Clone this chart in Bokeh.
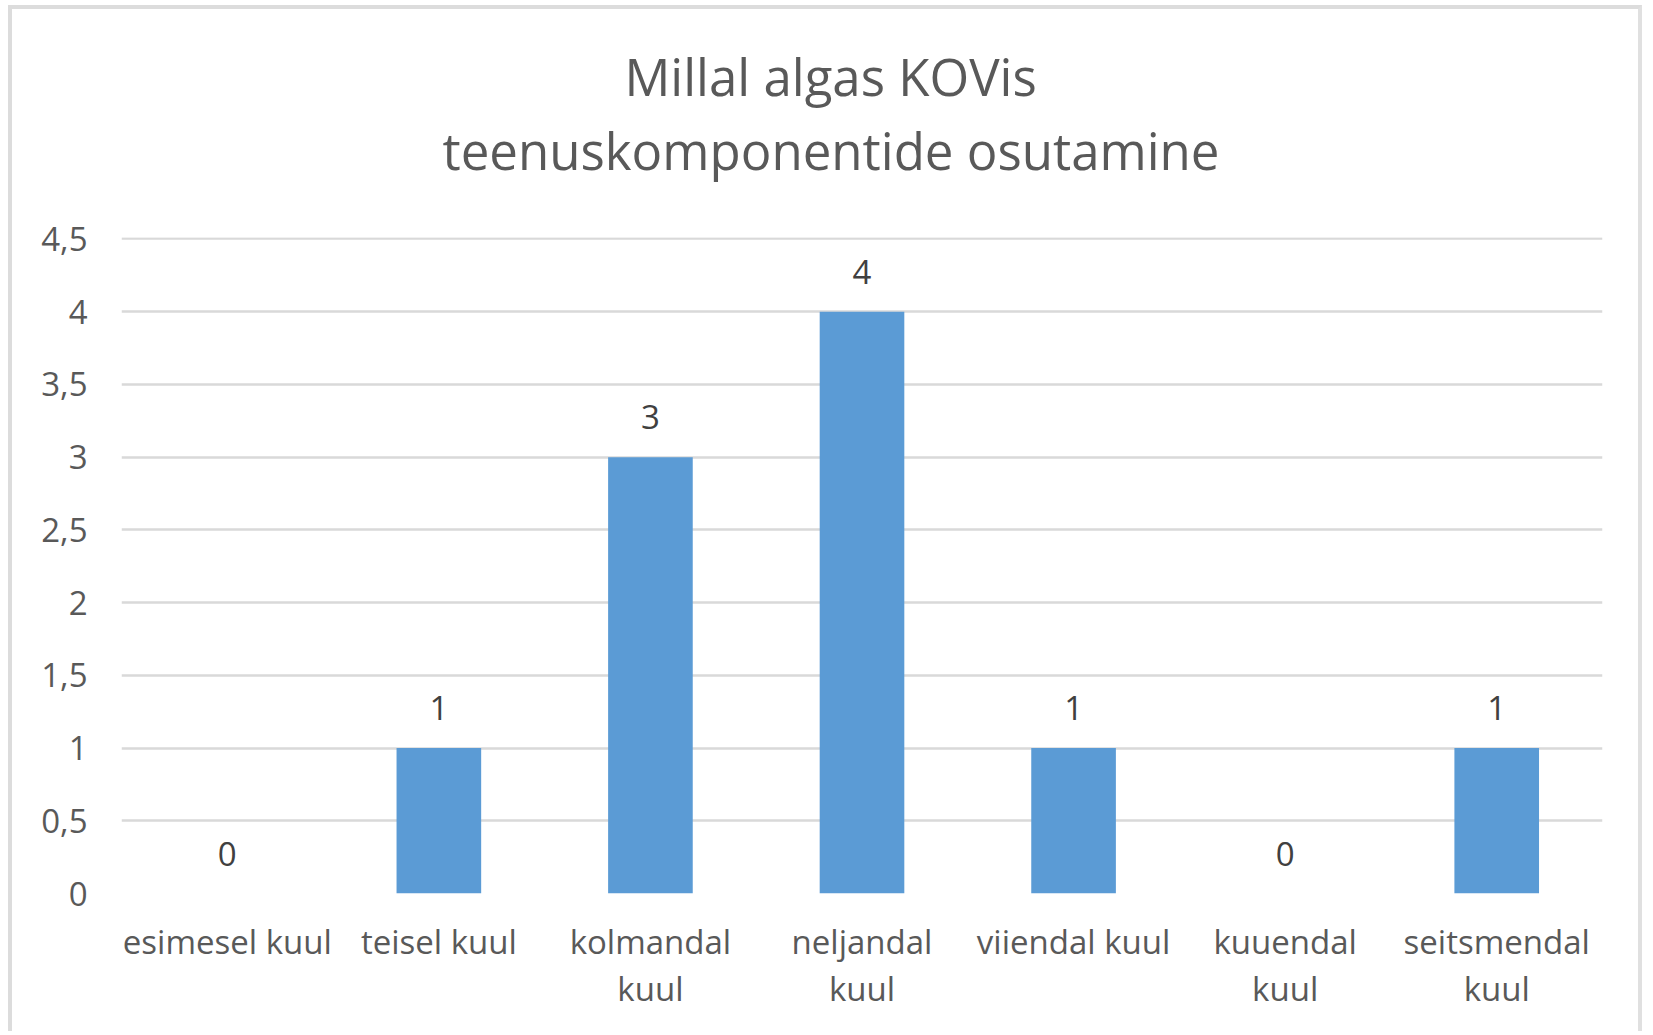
from bokeh.plotting import figure
from bokeh.models import ColumnDataSource, Range1d, FactorRange, FixedTicker, CustomJSTickFormatter, Title
from bokeh.embed import file_html
from bokeh.resources import INLINE
from bokeh.core.properties import value

categories = ["esimesel kuul", "teisel kuul", "kolmandal\nkuul", "neljandal\nkuul",
              "viiendal kuul", "kuuendal\nkuul", "seitsmendal\nkuul"]
counts = [0, 1, 3, 4, 1, 0, 1]
y_ticks = [0, 0.5, 1, 1.5, 2, 2.5, 3, 3.5, 4, 4.5]
title_line1 = "Millal algas KOVis"
title_line2 = "teenuskomponentide  osutamine"

FONT = "Open Sans"

src = ColumnDataSource(dict(cat=categories, val=counts, lab=[str(v) for v in counts]))

W, H = 1634, 1026
p = figure(width=W, height=H, output_backend="svg", toolbar_location=None,
           x_range=FactorRange(factors=categories), y_range=Range1d(0, 4.51),
           min_border_left=109, min_border_right=44, min_border_top=228, min_border_bottom=142,
           background_fill_color="white", border_fill_color="white")
p.styles = {"margin-left": "8px", "margin-top": "5px",
            "border-top": "4px solid #dcdcdc", "border-left": "4px solid #dcdcdc",
            "border-right": "4px solid #e0e0e0"}
p.outline_line_color = None

def style_title(t, standoff, offset):
    t.align = "left"
    t.text_font = FONT
    t.text_font_size = "51px"
    t.text_font_style = "normal"
    t.text_color = "#595959"
    t.offset = offset
    t.standoff = standoff

# outer line (p.title) and inner line (added title, nearest the frame)
p.title.text = title_line1
style_title(p.title, -101, 503)
t2 = Title(text=title_line2)
style_title(t2, 105, 321)
p.add_layout(t2, "above")

p.vbar(x="cat", top="val", width=0.4, source=src, fill_color="#5b9bd5", line_color=None)
p.text(x="cat", y="val", text="lab", source=src, text_align="center", text_baseline="middle",
       y_offset=-40, text_font=value(FONT), text_font_size="33px", text_color="#404040")

# axes
p.yaxis.ticker = FixedTicker(ticks=y_ticks)
p.yaxis.formatter = CustomJSTickFormatter(code="return tick.toString().replace('.', ',');")
p.yaxis.axis_line_color = None
p.yaxis.major_tick_line_color = None
p.yaxis.minor_tick_line_color = None
p.yaxis.major_label_standoff = 28
p.yaxis.major_label_text_font = FONT
p.yaxis.major_label_text_font_size = "33px"
p.yaxis.major_label_text_color = "#595959"

p.xaxis.axis_line_color = None
p.xaxis.major_tick_line_color = None
p.xaxis.major_label_standoff = 19
p.xaxis.major_label_text_font = FONT
p.xaxis.major_label_text_font_size = "33px"
p.xaxis.major_label_text_color = "#595959"
p.xaxis.major_label_text_line_height = 1.05

p.xgrid.grid_line_color = None
p.ygrid.grid_line_color = "#d9d9d9"
p.ygrid.grid_line_width = 2.5

open("out.html", "w").write(file_html(p, INLINE))
